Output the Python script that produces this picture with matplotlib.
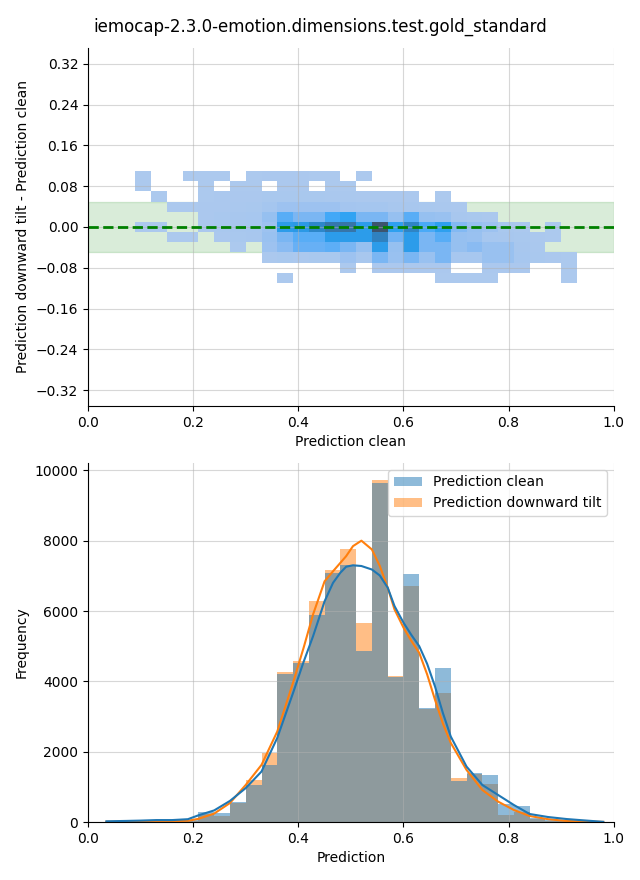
import numpy as np
import matplotlib
matplotlib.use("Agg")
import matplotlib.pyplot as plt
import matplotlib.colors as mcolors
from matplotlib.patches import Patch
from seaborn.external import husl

title = "iemocap-2.3.0-emotion.dimensions.test.gold_standard"

# 2D histogram: x = prediction clean, y = tilt - clean
x_edges = [0.09, 0.12, 0.15, 0.18, 0.21, 0.24, 0.27, 0.30, 0.33, 0.36, 0.39, 0.42, 0.45, 0.48, 0.51,
           0.54, 0.57, 0.60, 0.63, 0.66, 0.69, 0.72, 0.75, 0.78, 0.81, 0.84, 0.87, 0.90, 0.93]
y_edges = [-0.11, -0.09, -0.07, -0.05, -0.03, -0.01, 0.01, 0.03, 0.05, 0.07, 0.09, 0.11]
# rows listed from top (0.09..0.11) down to bottom (-0.11..-0.09), 28 columns each
counts_top_down = [
    [20, 0, 0, 10, 20, 10, 0, 20, 30, 30, 30, 20, 20, 0, 10, 0, 0, 0, 0, 0, 0, 0, 0, 0, 0, 0, 0, 0],
    [20, 0, 0, 0, 10, 0, 20, 20, 0, 30, 30, 0, 20, 20, 0, 0, 0, 0, 0, 0, 0, 0, 0, 0, 0, 0, 0, 0],
    [0, 10, 0, 0, 20, 30, 40, 40, 60, 60, 60, 60, 50, 50, 40, 40, 30, 30, 0, 20, 0, 0, 0, 0, 0, 0, 0, 0],
    [0, 0, 10, 10, 40, 40, 50, 60, 120, 250, 250, 250, 250, 150, 120, 120, 80, 80, 60, 50, 30, 0, 0, 0, 0, 0, 0, 0],
    [0, 0, 0, 0, 40, 60, 80, 100, 350, 1050, 700, 700, 1200, 1400, 700, 700, 350, 1050, 350, 300, 80, 60, 40, 0, 0, 0, 0, 0],
    [20, 20, 0, 0, 40, 60, 80, 100, 250, 1600, 1700, 2300, 2800, 2900, 1600, 4000, 1500, 2400, 1150, 1500, 600, 350, 250, 60, 40, 0, 20, 0],
    [0, 0, 10, 20, 0, 40, 60, 80, 300, 700, 1050, 1050, 1600, 1600, 1600, 2500, 800, 1600, 700, 1050, 350, 300, 100, 80, 60, 40, 20, 0],
    [0, 0, 0, 0, 0, 0, 20, 0, 250, 500, 900, 900, 1000, 700, 350, 1600, 350, 1600, 700, 700, 350, 500, 300, 300, 80, 50, 0, 0],
    [0, 0, 0, 0, 0, 0, 0, 0, 40, 60, 40, 60, 60, 250, 80, 700, 300, 700, 300, 700, 100, 100, 300, 300, 100, 60, 40, 20],
    [0, 0, 0, 0, 0, 0, 0, 0, 0, 0, 0, 0, 0, 20, 0, 40, 40, 40, 40, 40, 0, 0, 30, 30, 30, 0, 0, 20],
    [0, 0, 0, 0, 0, 0, 0, 0, 0, 10, 0, 0, 0, 0, 0, 0, 0, 0, 0, 20, 20, 20, 20, 0, 0, 0, 0, 10],
]

# 1D histograms
bin_edges = [0.03, 0.06, 0.09, 0.12, 0.15, 0.18, 0.21, 0.24, 0.27, 0.30, 0.33, 0.36, 0.39, 0.42, 0.45, 0.48, 0.51,
             0.54, 0.57, 0.60, 0.63, 0.66, 0.69, 0.72, 0.75, 0.78, 0.81, 0.84, 0.87, 0.90, 0.93, 0.96, 0.99]
clean_counts = [8, 10, 25, 30, 35, 60, 290, 250, 580, 1050, 1620, 4210, 4510, 5880, 7090, 7320,
                4870, 9630, 4130, 7060, 3230, 4390, 1170, 1400, 1350, 510, 455, 120, 60, 30, 15, 5]
tilt_counts = [3, 4, 10, 10, 15, 25, 220, 170, 540, 1200, 1970, 4270, 4590, 6280, 7180, 7750,
               5670, 9720, 4150, 6700, 3210, 3680, 1250, 1360, 1080, 210, 290, 90, 30, 15, 6, 2]

# density curves (scaled to counts)
kde_x = [0.035, 0.07, 0.10, 0.13, 0.16, 0.19, 0.21, 0.24, 0.27, 0.30, 0.33, 0.36, 0.39, 0.41, 0.428,
         0.45, 0.466, 0.48, 0.491, 0.504, 0.52, 0.54, 0.555, 0.57, 0.583, 0.60, 0.615, 0.63, 0.645,
         0.66, 0.675, 0.69, 0.72, 0.75, 0.78, 0.81, 0.84, 0.875, 0.91, 0.94, 0.98]
kde_clean = [20, 30, 40, 55, 55, 80, 190, 330, 600, 965, 1435, 2393, 3670, 4550, 5280,
             6277, 6800, 7090, 7260, 7300, 7280, 7180, 7010, 6665, 6140, 5670, 5320, 5000, 4500,
             3855, 3100, 2430, 1576, 1054, 769, 484, 228, 142, 85, 50, 5]
kde_tilt = [5, 10, 15, 20, 25, 35, 90, 240, 540, 1054, 1624, 2573, 3960, 4950, 5900,
            6846, 7130, 7370, 7560, 7845, 8000, 7750, 7280, 6665, 6045, 5530, 5150, 4810, 4200,
            3476, 2800, 2250, 1481, 912, 580, 342, 171, 80, 30, 15, 3]

# seaborn-style light-to-dark colormap built from C0
r, g, b = mcolors.to_rgb("C0")
h, s, _ = husl.rgb_to_husl(r, g, b)
xx = np.linspace(-1, 1, int(1.15 * 256))[:256]
ramp = np.zeros((256, 3))
ramp[:, 0] = h
ramp[:, 1] = s * np.cos(xx)
ramp[:, 2] = np.linspace(35, 80, 256)
cmap = mcolors.ListedColormap(np.clip([husl.husl_to_rgb(*c) for c in ramp], 0, 1)[::-1])

fig = plt.figure(figsize=(6.4, 8.8), dpi=100)
ax1 = fig.add_axes([0.1375, 0.5386, 0.8215, 0.4069])
ax2 = fig.add_axes([0.1375, 0.0659, 0.8215, 0.4080])

# top: difference heatmap
ax1.axhspan(-0.05, 0.05, color="green", alpha=0.15)
counts = np.ma.masked_equal(np.array(counts_top_down[::-1]), 0)
ax1.pcolormesh(x_edges, y_edges, counts, cmap=cmap)
ax1.axhline(0, color="green", linestyle="--", linewidth=2)
ax1.set_xlim(0, 1)
ax1.set_ylim(-0.3514, 0.3514)
ax1.set_yticks([-0.32, -0.24, -0.16, -0.08, 0.0, 0.08, 0.16, 0.24, 0.32])
ax1.set_xlabel("Prediction clean")
ax1.set_ylabel("Prediction downward tilt - Prediction clean")
ax1.grid(alpha=0.5)

# bottom: overlapping histograms
widths = np.diff(bin_edges)
ax2.bar(bin_edges[:-1], tilt_counts, width=widths, align="edge", color="C1", alpha=0.5, linewidth=0)
ax2.bar(bin_edges[:-1], clean_counts, width=widths, align="edge", color="C0", alpha=0.5, linewidth=0)
ax2.plot(kde_x, kde_tilt, color="C1", linewidth=1.5)
ax2.plot(kde_x, kde_clean, color="C0", linewidth=1.5)
ax2.set_xlim(0, 1)
ax2.set_ylim(0, 10210)
ax2.set_xlabel("Prediction")
ax2.set_ylabel("Frequency")
ax2.grid(alpha=0.5)
handles = [Patch(facecolor="C0", alpha=0.5, linewidth=0), Patch(facecolor="C1", alpha=0.5, linewidth=0)]
ax2.legend(handles, ["Prediction clean", "Prediction downward tilt"], loc="upper right")

for ax in (ax1, ax2):
    ax.spines["top"].set_visible(False)
    ax.spines["right"].set_visible(False)

fig.suptitle(title, y=0.980, fontsize=12)
fig.savefig("out.png", dpi=100)
